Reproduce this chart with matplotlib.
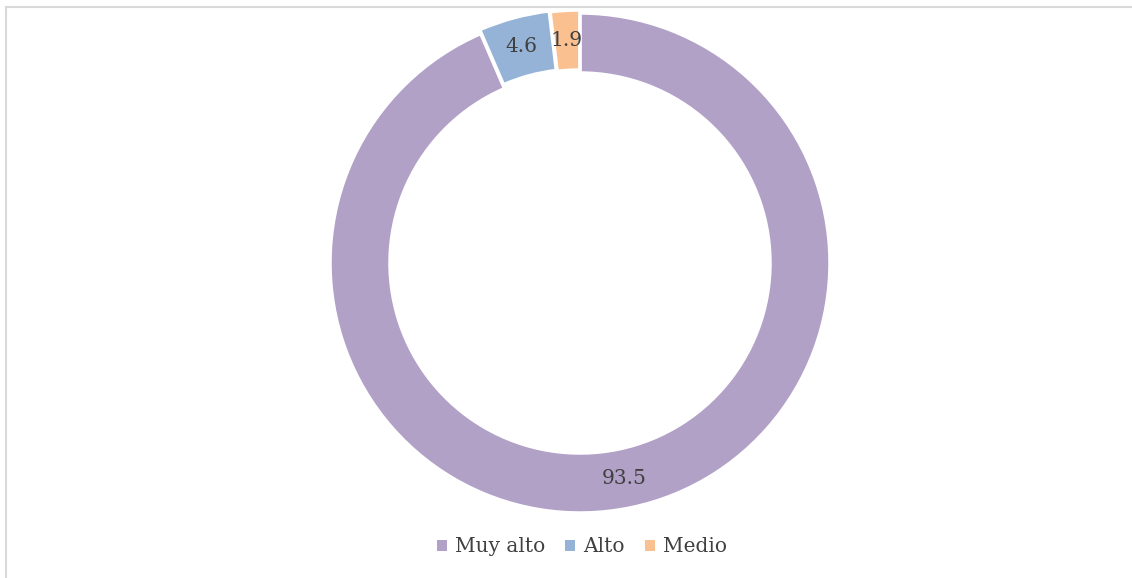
import matplotlib.pyplot as plt
from matplotlib.patches import Patch
from matplotlib.lines import Line2D

categories = ["Muy alto", "Alto", "Medio"]
values = [93.5, 4.6, 1.9]
colors = ["#B2A1C7", "#95B3D7", "#FAC090"]

plt.rcParams['font.family'] = ['DejaVu Serif']

fig = plt.figure(figsize=[11.32, 5.78], dpi=100)
ax = fig.add_axes([0, 0, 1, 1])

wedges, texts, autotexts = ax.pie(
    values, center=(580, 315), radius=250, startangle=90, counterclock=False,
    colors=colors, explode=[0, 4, 3], pctdistance=0.88,
    autopct=lambda p: "", frame=True,
    wedgeprops=dict(width=60, edgecolor='white', linewidth=2.5))
for t, v in zip(autotexts, values):
    t.set_text(str(v))
    t.set_fontsize(14.5)
    t.set_color('#404040')
ax.set_xlim(0, 1132)
ax.set_ylim(0, 578)
ax.set_aspect('equal')
ax.axis('off')

handles = [Patch(facecolor=c, edgecolor='none') for c in colors]
fig.legend(handles, categories, loc='center', bbox_to_anchor=(582 / 1132, 1 - 547 / 578),
           ncol=3, frameon=False, fontsize=14.5, handlelength=0.5, handleheight=0.5,
           handletextpad=0.4, columnspacing=1.0, labelcolor='#404040')

# thin chart border
fig.add_artist(Line2D([5.5 / 1132, 1], [1 - 6.5 / 578, 1 - 6.5 / 578], color='#D9D9D9', lw=1.5))
fig.add_artist(Line2D([5.5 / 1132, 5.5 / 1132], [0, 1 - 6.5 / 578], color='#D9D9D9', lw=1.5))

fig.savefig("out.png", dpi=100)
